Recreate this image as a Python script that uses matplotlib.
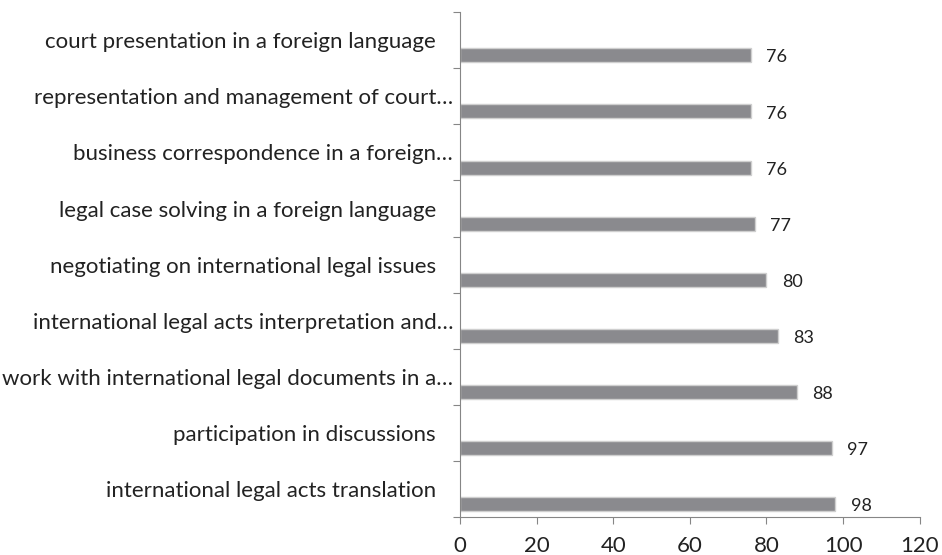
import matplotlib.pyplot as plt
import numpy as np

plt.rcParams['font.family'] = ['Lato', 'DejaVu Sans']

# Data (bottom to top)
labels = [
    'international legal acts translation   ',
    'participation in discussions   ',
    'work with international legal documents in a…',
    'international legal acts interpretation and…',
    'negotiating on international legal issues   ',
    'legal case solving in a foreign language   ',
    'business correspondence in a foreign…',
    'representation and management of court…',
    'court presentation in a foreign language   ',
]
values = [98, 97, 88, 83, 80, 77, 76, 76, 76]

y = np.arange(len(labels))
bar_h = 0.25
shift = 0.27  # bars sit in the lower part of each band

fig = plt.figure(figsize=(9.42, 5.55), dpi=100)
ax = fig.add_axes([0.4883, 0.0685, 0.488, 0.9095])

bars = ax.barh(y - shift, values, height=bar_h, color='#8a8a8e',
               edgecolor='#cfcfcf', linewidth=1.0)

for b, v in zip(bars, values):
    ax.annotate(f'{v}', (b.get_width(), b.get_y() + b.get_height() / 2),
                xytext=(11, -1.5), textcoords='offset points',
                ha='left', va='center', fontsize=13, color='#222222')

ax.set_xlim(0, 120)
ax.set_ylim(-0.5, len(labels) - 0.5)
ax.set_xticks(np.arange(0, 121, 20))
ax.tick_params(axis='x', labelsize=16, length=5, color='#868686', pad=9,
               labelcolor='#222222')

# tick marks at band boundaries, labels at band centres
ax.set_yticks(np.arange(len(labels) + 1) - 0.5)
ax.set_yticklabels([])
ax.set_yticks(y, minor=True)
ax.set_yticklabels(labels, minor=True, va='center_baseline')
ax.tick_params(axis='y', which='major', length=5, color='#868686')
ax.tick_params(axis='y', which='minor', length=0, pad=5, labelsize=16,
               labelcolor='#222222')

for s in ['top', 'right']:
    ax.spines[s].set_visible(False)
ax.spines['left'].set_color('#868686')
ax.spines['bottom'].set_color('#868686')

plt.savefig('out.png', dpi=100)
